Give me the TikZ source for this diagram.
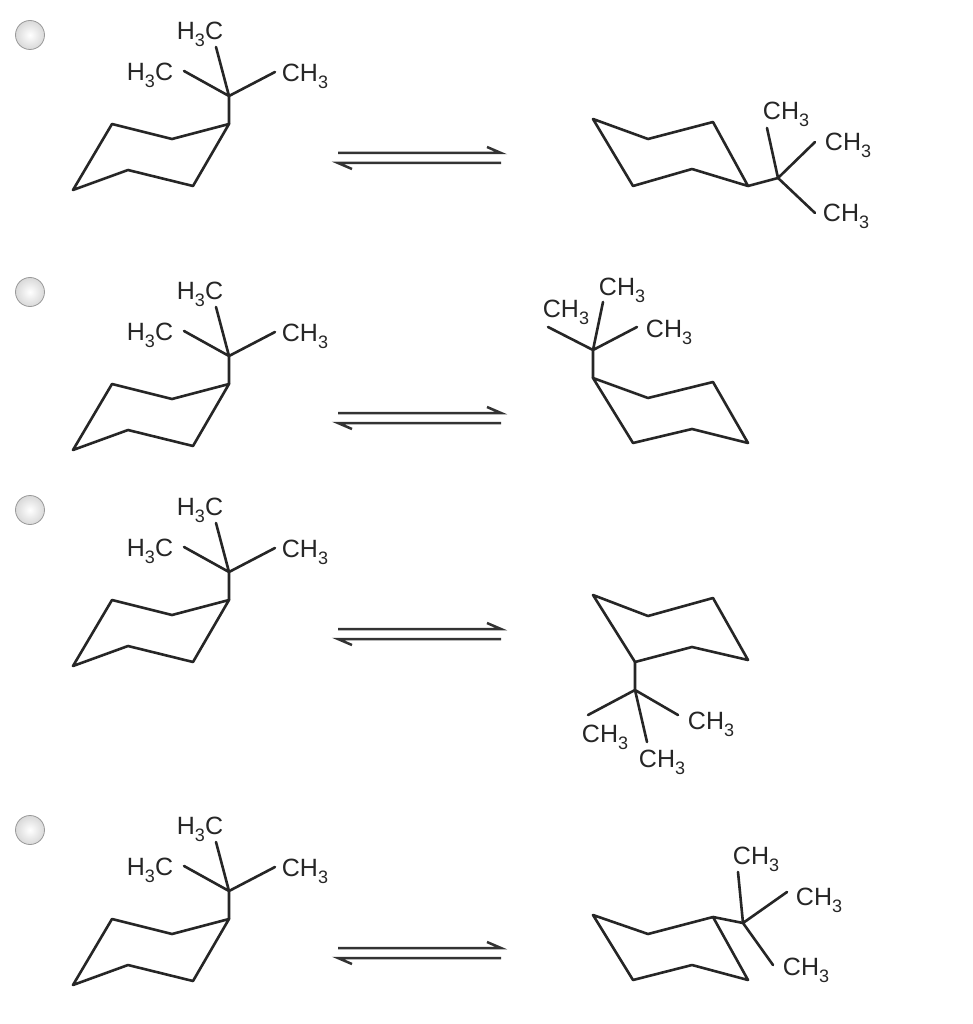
\documentclass[tikz,border=0pt]{standalone}
\usepackage{fontspec}
\setmainfont{Liberation Sans}
\newcommand\csub[1]{\raisebox{-0.28em}{\fontsize{18}{18}\selectfont #1}}
\newcommand\me{CH\csub{3}}
\newcommand\mel{H\csub{3}C}
\begin{document}
\begin{tikzpicture}[x=1pt,y=-1pt,
  bond/.style={line width=2.6pt,line join=round,line cap=round,color=black!85},
  lbl/.style={font=\fontsize{25}{25}\selectfont,inner sep=0pt,text=black!85},
  radio/.style={circle,draw=black!40,line width=0.8pt,inner color=white,outer color=black!15,minimum size=29pt,inner sep=0pt},
  leftmol/.pic={
    \coordinate (a) at (73,190); \coordinate (b) at (128,170); \coordinate (c) at (193,186);
    \coordinate (d) at (229,124); \coordinate (e) at (172,139); \coordinate (f) at (112,124);
    \coordinate (q) at (229,96);
    \draw[bond] (a)--(b)--(c)--(d)--(e)--(f)--cycle;
    \draw[bond] (d)--(q) (q)--(216,47) (q)--(184,71) (q)--(275,72);
    \node[lbl] (t) at (200,34) {\mel};
    \node[lbl] (l) at (150,75) {\mel};
    \node[lbl] (r) at (305,76) {\me};
  },
  eqarrow/.pic={
    \draw[line width=2.5pt,black!80] (338,153)--(501,153)--(487,147);
    \draw[line width=2.5pt,black!80] (501,163)--(338,163)--(352,169);
  }]
\useasboundingbox (0,0) rectangle (972,1024);
\fill[white] (0,0) rectangle (972,1024);
% radio buttons
\node[radio] (r1) at (30,35) {};
\node[radio] (r2) at (30,292) {};
\node[radio] (r3) at (30,510) {};
\node[radio] (r4) at (30,830) {};
% left molecules and arrows
\pic (L1) at (0,0) {leftmol}; \pic (A1) at (0,0) {eqarrow};
\pic (L2) at (0,260) {leftmol}; \pic (A2) at (0,260) {eqarrow};
\pic (L3) at (0,476) {leftmol}; \pic (A3) at (0,476) {eqarrow};
\pic (L4) at (0,795) {leftmol}; \pic (A4) at (0,795) {eqarrow};
% row 1 right
\draw[bond] (593,119)--(648,139)--(713,122)--(748,186)--(692,169)--(633,186)--cycle;
\coordinate (q1) at (778,178);
\draw[bond] (748,186)--(q1) (q1)--(767,128) (q1)--(815,142) (q1)--(815,213);
\node[lbl] (m1a) at (786,114) {\me};
\node[lbl] (m1b) at (848,145) {\me};
\node[lbl] (m1c) at (846,216) {\me};
% row 2 right
\draw[bond] (593,378)--(648,398)--(713,382)--(748,443)--(692,429)--(633,443)--cycle;
\coordinate (q2) at (593,350);
\draw[bond] (593,378)--(q2) (q2)--(603,302) (q2)--(548,327) (q2)--(637,327);
\node[lbl] (m2a) at (622,290) {\me};
\node[lbl] (m2b) at (566,312) {\me};
\node[lbl] (m2c) at (669,332) {\me};
% row 3 right
\draw[bond] (593,595)--(648,616)--(713,598)--(748,660)--(692,647)--(635,662)--cycle;
\coordinate (q3) at (635,690);
\draw[bond] (635,662)--(q3) (q3)--(588,715) (q3)--(678,715) (q3)--(647,742);
\node[lbl] (m3a) at (605,737) {\me};
\node[lbl] (m3b) at (711,724) {\me};
\node[lbl] (m3c) at (662,762) {\me};
% row 4 right
\draw[bond] (593,915)--(648,934)--(713,917)--(748,980)--(692,965)--(633,980)--cycle;
\coordinate (q4) at (743,923);
\draw[bond] (713,917)--(q4) (q4)--(738,872) (q4)--(787,892) (q4)--(773,965);
\node[lbl] (m4a) at (756,859) {\me};
\node[lbl] (m4b) at (819,900) {\me};
\node[lbl] (m4c) at (806,970) {\me};
\end{tikzpicture}
\end{document}
